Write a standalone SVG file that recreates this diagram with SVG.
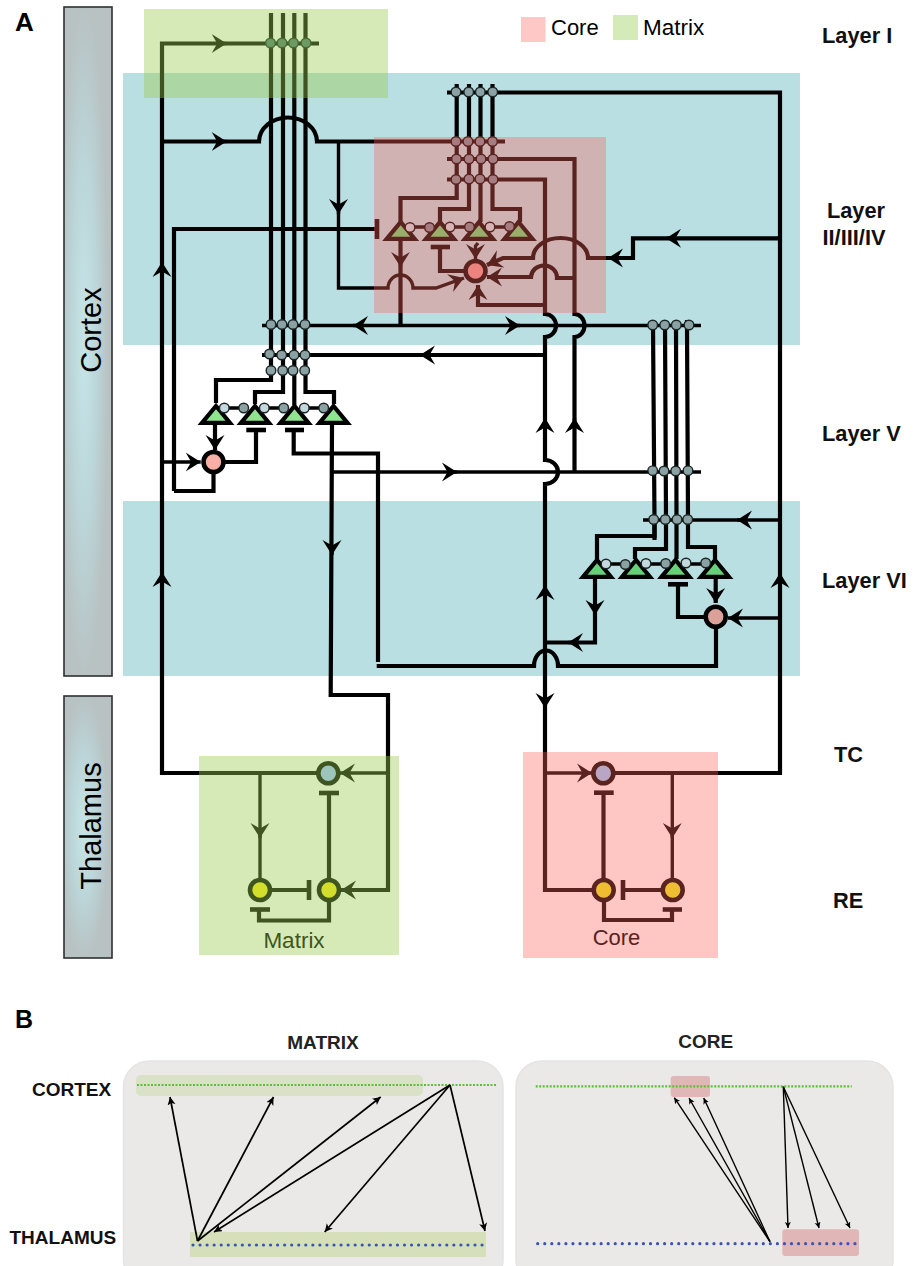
<svg xmlns="http://www.w3.org/2000/svg" width="919" height="1266" viewBox="0 0 919 1266">
<style>
text{font-family:"Liberation Sans",Arial,sans-serif;fill:#000}
.b{font-weight:bold}
.lay{font-weight:bold;font-size:21.8px;fill:#111}
.bar{stroke:#2d3030;stroke-width:1.6}
.band{fill:#b9dfe3}
.ovg{fill:#98cd4e;fill-opacity:.41}
.ovr{fill:#fc625a;fill-opacity:.357}
.l{fill:none;stroke:#000;stroke-width:4.2;stroke-linejoin:miter}
.t{fill:none;stroke:#000;stroke-width:3.4}
.a{fill:none;stroke:#000;stroke-width:3.4;marker-end:url(#arr)}
.tb{fill:none;stroke:#000;stroke-width:4.6}
.dot{fill:#8ba2a4;stroke:#1d2424;stroke-width:1.4}
.dl{fill:#c3d9dd;stroke:#1d2424;stroke-width:1.4}
.dm{fill:#6d9a63;stroke:#4a6a35;stroke-width:1.4}
.dc{fill:#a57c80;stroke:#5a2320;stroke-width:1.4}
.dcl{fill:#d6b4b6;stroke:#5a2320;stroke-width:1.4}
.tr{stroke:#000;stroke-width:4.2;stroke-miterlimit:10;stroke-linejoin:miter}
.tv{fill:#8fe48f}
.tvi{fill:#66cf78}
.tc{fill:#9aae6b;stroke:#5a2320}
.cell{stroke-width:4.6}
.pan{fill:#ebe8e8;stroke:#e5e4e4;stroke-width:1.5}
.hg{fill:#d9e1c6}
.hg2{fill:#d5e0bb}
.hr{fill:#e1b6b6}
.gd{fill:none;stroke:#5cc034;stroke-width:2.2;stroke-dasharray:2 1.5}
.bd{fill:none;stroke:#3a55b0;stroke-width:3.2;stroke-linecap:round;stroke-dasharray:0 7.05}
.pa{fill:none;stroke:#000;stroke-width:1.7;marker-end:url(#arb)}
.pb{fill:none;stroke:#000;stroke-width:1.4;marker-end:url(#arc)}
</style>
<defs>
<marker id="arr" markerUnits="userSpaceOnUse" markerWidth="16" markerHeight="20" refX="15" refY="10" orient="auto" viewBox="0 0 16 20"><path d="M15 10L0 0.500L5.500 10L0 19.500Z" fill="#000"/></marker>
<marker id="arb" markerUnits="userSpaceOnUse" markerWidth="9" markerHeight="9" refX="8" refY="4" orient="auto" viewBox="0 0 9 9"><path d="M8 4L0 0L2 4L0 8Z" fill="#000"/></marker>
<marker id="arc" markerUnits="userSpaceOnUse" markerWidth="7" markerHeight="7" refX="6" refY="3" orient="auto" viewBox="0 0 7 7"><path d="M6 3L0 0L1.500 3L0 6Z" fill="#000"/></marker>
<radialGradient id="barg" cx=".42" cy=".5" r=".5"><stop offset="0" stop-color="#c6e5e9"/><stop offset=".55" stop-color="#bbd5d8"/><stop offset="1" stop-color="#b8c2c3"/></radialGradient>
</defs>

<g id="backgrounds">
<rect class="bar" x="64" y="7" width="48" height="669" fill="url(#barg)"/>
<rect class="bar" x="64" y="696" width="48" height="262" fill="url(#barg)"/>
<rect class="band" x="123" y="73" width="677" height="272"/>
<rect class="band" x="123" y="501" width="677" height="175"/>
<rect x="521" y="17" width="24.500" height="25" fill="#fec8c6"/>
<rect x="613" y="15" width="25" height="25" fill="#d4ebb9"/>
</g>

<g id="connectors">
<path class="l" d="M271 13V380H216V403"/>
<path class="l" d="M283 13V392H255V404"/>
<path class="l" d="M294.300 13V405"/>
<path class="l" d="M305.500 13V392H334V404"/>
<path class="l" d="M162 775V43.500H319"/>
<path class="l" d="M162 141.500H259A29 24 0 0 1 317 141.500H505"/>
<path class="t" d="M338.500 142V288H388A12.500 13 0 0 1 413 288H436L464 278" marker-end="url(#arr)"/>
<path class="l" d="M174 491V229H375"/>
<path class="tb" d="M377 219V239"/>
<path class="l" d="M174 491H213.500V472"/>
<path class="l" d="M456.700 84V198H400.500V222"/>
<path class="l" d="M469 84V209H440V222"/>
<path class="l" d="M480.500 84V222"/>
<path class="l" d="M492.500 84V209H520V222"/>
<path class="l" d="M447 92.500H780V773H613"/>
<path class="l" d="M447 159H574.500V314A10 11.500 0 0 1 574.500 337V472"/>
<path class="l" d="M447 179.500H545V314A11 11.500 0 0 1 545 337V460A13 12 0 0 1 545 484V890H592"/>
<path class="l" d="M780 238.300H633V258H588A27.500 20 0 0 0 533 258H503L487 265" marker-end="url(#arr)"/>
<path class="l" d="M574.500 278H557A13 12 0 0 0 531 277H487" marker-end="url(#arr)"/>
<path class="l" d="M545 305H478V285" marker-end="url(#arr)"/>
<path class="l" d="M400.500 241V325"/>
<path class="t" d="M478 243L475.500 246V259" marker-end="url(#arr)"/>
<path class="tb" d="M430.700 247H450"/>
<path class="l" d="M440 247V271H465"/>
<path class="t" d="M410 227H429M450 227H469M490 227H509"/>
<path class="t" d="M262 325.500H701"/>
<path class="l" d="M262 355H545"/>
<path class="t" d="M332 472H701"/>
<path class="l" d="M653 320V325L654.500 519V536H597V559"/>
<path class="l" d="M654.500 519V540"/>
<path class="l" d="M665 320V325L666 519V549H635V559"/>
<path class="l" d="M676 320V325L676.500 519V559"/>
<path class="l" d="M687 320V325L688 519V547H715V559"/>
<path class="t" d="M643 520H780"/>
<path class="t" d="M224 408H244M264 408H284M304 408H324"/>
<path class="l" d="M215 425V450" marker-end="url(#arr)"/>
<path class="t" d="M162 462H200.700" marker-end="url(#arr)"/>
<path class="tb" d="M246.300 430H266"/>
<path class="l" d="M256 430V462H224"/>
<path class="tb" d="M285 430H304"/>
<path class="l" d="M293.700 430V453.500H378V662"/>
<path class="l" d="M332 425L330.700 695H388V890H341" marker-end="url(#arr)"/>
<path class="t" d="M388 773H340" marker-end="url(#arr)"/>
<path class="t" d="M606 564H625M646 564H666M686 564H706"/>
<path class="l" d="M595 579V642.500H544"/>
<path class="l" d="M715.700 579V603" marker-end="url(#arr)"/>
<path class="t" d="M780 618H728" marker-end="url(#arr)"/>
<path class="tb" d="M668 584.300H688"/>
<path class="l" d="M678 584.300V617H705"/>
<path class="l" d="M716 628V666H558A12 15.500 0 0 0 534 666H376.700"/>
<path class="l" d="M162 773H318"/>
<path class="t" d="M260 773V880"/>
<path class="l" d="M270 890H309"/>
<path class="tb" d="M309 880V900"/>
<path class="l" d="M329 880V793"/>
<path class="tb" d="M319 793H339"/>
<path class="l" d="M329 900V920.500H259V909.500"/>
<path class="tb" d="M250 909.500H270"/>
<path class="t" d="M545 773H592" marker-end="url(#arr)"/>
<path class="l" d="M604 773H672"/>
<path class="t" d="M672.300 773V880"/>
<path class="l" d="M603.500 880V793"/>
<path class="tb" d="M594 792.700H613.700"/>
<path class="l" d="M662 890H623"/>
<path class="tb" d="M623 880V900"/>
<path class="l" d="M604 900V920H672V909.500"/>
<path class="tb" d="M662.700 909.500H682"/>
<path class="a" d="M216 43.500H226.700"/>
<path class="a" d="M216 141.500H226.700"/>
<path class="a" d="M510 325.500H520"/>
<path class="a" d="M447 472H457"/>
<path class="a" d="M363 325.500H353"/>
<path class="a" d="M430 355H420"/>
<path class="a" d="M747 520H737"/>
<path class="a" d="M676 238.300H666"/>
<path class="a" d="M618 258H608"/>
<path class="a" d="M578 642.500H568"/>
<path class="a" d="M338.500 204V214"/>
<path class="a" d="M400.500 257V267"/>
<path class="a" d="M332 545V555"/>
<path class="a" d="M595 605V615"/>
<path class="a" d="M260 828V838"/>
<path class="a" d="M672.300 828V838"/>
<path class="a" d="M545 698V708"/>
<path class="a" d="M162 272V262"/>
<path class="a" d="M162 582V572"/>
<path class="a" d="M780 583V573"/>
<path class="a" d="M545 428V418"/>
<path class="a" d="M574.500 428V418"/>
<path class="a" d="M545 595V585"/>
</g>

<g id="overlays">
<rect class="ovg" x="144" y="9" width="244" height="89"/>
<rect class="ovr" x="374" y="137" width="232" height="176"/>
<rect class="ovg" x="199" y="756" width="200" height="199"/>
<rect class="ovr" x="523" y="752" width="195" height="206"/>
</g>

<g id="syn-layer1"><circle class="dm" cx="270.500" cy="43" r="4.800"/><circle class="dm" cx="282" cy="43" r="4.800"/><circle class="dm" cx="293.500" cy="43" r="4.800"/><circle class="dm" cx="306" cy="43" r="4.800"/></g>
<g id="syn-top"><circle class="dot" cx="456" cy="92" r="4.800"/><circle class="dot" cx="468.700" cy="92" r="4.800"/><circle class="dot" cx="480.300" cy="92" r="4.800"/><circle class="dot" cx="492.700" cy="92" r="4.800"/></g>
<g id="syn-core-rows">
<circle class="dc" cx="456" cy="141.500" r="4.800"/><circle class="dc" cx="468" cy="141.500" r="4.800"/><circle class="dc" cx="480" cy="141.500" r="4.800"/><circle class="dc" cx="492.500" cy="141.500" r="4.800"/>
<circle class="dc" cx="456.500" cy="159" r="4.800"/><circle class="dc" cx="469" cy="159" r="4.800"/><circle class="dc" cx="481" cy="159" r="4.800"/><circle class="dc" cx="493" cy="159" r="4.800"/>
<circle class="dc" cx="456" cy="179.500" r="4.800"/><circle class="dc" cx="469" cy="179" r="4.800"/><circle class="dc" cx="480" cy="179" r="4.800"/><circle class="dc" cx="493" cy="179.500" r="4.800"/>
</g>
<g id="pyr-core">
<polygon class="tr tc" points="386.700,238.900 400.700,222 414.700,238.900"/>
<polygon class="tr tc" points="426,238.900 440,222 454,238.900"/>
<polygon class="tr tc" points="465,238.900 479,222 493,238.900"/>
<polygon class="tr tc" points="504.500,238.900 518.500,222 532.500,238.900"/>
<circle class="dcl" cx="410" cy="227.500" r="4.800"/><circle class="dc" cx="429.500" cy="227.500" r="4.800"/><circle class="dcl" cx="450" cy="227" r="4.800"/><circle class="dc" cx="469.500" cy="227" r="4.800"/><circle class="dcl" cx="490" cy="227" r="4.800"/><circle class="dc" cx="509.500" cy="226.500" r="4.800"/>
</g>
<g id="int-core"><circle class="cell" cx="475.500" cy="271" r="10" fill="#ec837f" stroke="#5a2320"/></g>

<g id="syn-mid-left">
<circle class="dot" cx="271" cy="324.500" r="4.800"/><circle class="dot" cx="282" cy="324.500" r="4.800"/><circle class="dot" cx="293" cy="324.500" r="4.800"/><circle class="dot" cx="305" cy="324.500" r="4.800"/>
<circle class="dot" cx="269.500" cy="354" r="4.800"/><circle class="dot" cx="281.700" cy="355" r="4.800"/><circle class="dot" cx="294" cy="355" r="4.800"/><circle class="dot" cx="305" cy="355" r="4.800"/>
<circle class="dot" cx="271" cy="370.500" r="4.800"/><circle class="dot" cx="282.700" cy="370.500" r="4.800"/><circle class="dot" cx="293" cy="370.500" r="4.800"/><circle class="dot" cx="304.700" cy="370.500" r="4.800"/>
</g>
<g id="pyr-layer5">
<polygon class="tr tv" points="202,422.900 216,406 230,422.900"/>
<polygon class="tr tv" points="241,422.900 255,406 269,422.900"/>
<polygon class="tr tv" points="280.500,422.900 294.500,406 308.500,422.900"/>
<polygon class="tr tv" points="319.500,422.900 333.500,406 347.500,422.900"/>
<circle class="dl" cx="224.300" cy="408" r="4.800"/><circle class="dot" cx="243.700" cy="408" r="4.800"/><circle class="dl" cx="264.300" cy="408" r="4.800"/><circle class="dot" cx="283.700" cy="408" r="4.800"/><circle class="dl" cx="304.300" cy="408" r="4.800"/><circle class="dot" cx="323.700" cy="408" r="4.800"/>
</g>
<g id="int-layer5"><circle class="cell" cx="213.500" cy="462" r="10" fill="#f8afa5" stroke="#000"/></g>

<g id="syn-mid-right">
<circle class="dot" cx="652.700" cy="325" r="4.800"/><circle class="dot" cx="664.700" cy="325" r="4.800"/><circle class="dot" cx="676.300" cy="325" r="4.800"/><circle class="dot" cx="689" cy="325" r="4.800"/>
<circle class="dot" cx="652.700" cy="470.700" r="4.800"/><circle class="dot" cx="664" cy="471" r="4.800"/><circle class="dot" cx="675.700" cy="471" r="4.800"/><circle class="dot" cx="688" cy="470.700" r="4.800"/>
<circle class="dot" cx="653.700" cy="519.500" r="4.800"/><circle class="dot" cx="665.300" cy="519.500" r="4.800"/><circle class="dot" cx="677" cy="519.500" r="4.800"/><circle class="dot" cx="687.700" cy="519.500" r="4.800"/>
</g>
<g id="pyr-layer6">
<polygon class="tr tvi" points="583,576.900 597,560 611,576.900"/>
<polygon class="tr tvi" points="622,576.900 636,560 650,576.900"/>
<polygon class="tr tvi" points="661.500,576.900 675.500,560 689.500,576.900"/>
<polygon class="tr tvi" points="701,576.900 715,560 729,576.900"/>
<circle class="dl" cx="606" cy="564" r="4.800"/><circle class="dot" cx="625.300" cy="564.500" r="4.800"/><circle class="dl" cx="646" cy="563.500" r="4.800"/><circle class="dot" cx="665.700" cy="563.500" r="4.800"/><circle class="dl" cx="686" cy="563" r="4.800"/><circle class="dot" cx="705.700" cy="563" r="4.800"/>
</g>
<g id="int-layer6"><circle class="cell" cx="715.700" cy="616.700" r="10" fill="#dba097" stroke="#000"/></g>

<g id="tc-matrix"><circle class="cell" cx="328.300" cy="773.300" r="10" fill="#9cc5bb" stroke="#3f5520"/></g>
<g id="re-matrix-1"><circle class="cell" cx="260" cy="890" r="10" fill="#d3de2c" stroke="#3f5520"/></g>
<g id="re-matrix-2"><circle class="cell" cx="329" cy="890" r="10" fill="#d3de2c" stroke="#3f5520"/></g>
<g id="tc-core"><circle class="cell" cx="603.300" cy="773.300" r="10" fill="#b8a6c4" stroke="#5a2320"/></g>
<g id="re-core-1"><circle class="cell" cx="603.700" cy="890" r="10" fill="#efbd32" stroke="#5a2320"/></g>
<g id="re-core-2"><circle class="cell" cx="672.700" cy="890" r="10" fill="#efbd32" stroke="#5a2320"/></g>

<g id="labels-a">
<text class="b" x="15" y="31" font-size="26">A</text>
<text x="100.500" y="330" font-size="29" text-anchor="middle" transform="rotate(-90 100.500 330)" fill="#111">Cortex</text>
<text x="101" y="826" font-size="29" text-anchor="middle" transform="rotate(-90 101 826)" fill="#111">Thalamus</text>
<text x="551" y="35" font-size="22">Core</text>
<text x="643" y="35" font-size="22.500">Matrix</text>
<text class="lay" x="822" y="42.500">Layer I</text>
<text class="lay" x="856" y="218" text-anchor="middle">Layer</text>
<text class="lay" x="854" y="245" text-anchor="middle">II/III/IV</text>
<text class="lay" x="822" y="441">Layer V</text>
<text class="lay" x="822" y="588">Layer VI</text>
<text class="lay" x="834" y="762">TC</text>
<text class="lay" x="833" y="908">RE</text>
<text x="294" y="948" font-size="22.500" text-anchor="middle" style="fill:#3f5520">Matrix</text>
<text x="616.500" y="945" font-size="22" text-anchor="middle" style="fill:#5a2320">Core</text>
</g>

<g id="panel-b-matrix">
<rect class="pan" x="123.500" y="1061" width="379.500" height="225" rx="26"/>
<rect class="hg" x="136" y="1075" width="287" height="21" rx="5"/>
<rect class="hg2" x="190" y="1232" width="296" height="25"/>
<path class="gd" d="M137 1085H497"/>
<path class="bd" d="M193 1245H485"/>
<path class="pa" d="M197.500 1241L170 1097"/>
<path class="pa" d="M197.500 1241L273.500 1097"/>
<path class="pa" d="M197.500 1241L380.700 1097"/>
<path class="pa" d="M450 1085L214 1232"/>
<path class="pa" d="M450 1085L324.700 1232"/>
<path class="pa" d="M450 1085L485 1231"/>
</g>
<g id="panel-b-core">
<rect class="pan" x="516" y="1061" width="377" height="225" rx="26"/>
<rect class="hr" x="670.700" y="1076" width="39.300" height="21" rx="3"/>
<rect class="hr" x="782.300" y="1229.300" width="76.700" height="26.700" rx="3"/>
<path class="gd" d="M535.700 1086.300H851.700"/>
<path class="bd" d="M537.700 1243.700H856"/>
<path class="pb" d="M770 1241.700L674.300 1097.700"/>
<path class="pb" d="M770 1241.700L689 1098"/>
<path class="pb" d="M770 1241.700L703.700 1098"/>
<path class="pb" d="M783.300 1086.700L788 1228"/>
<path class="pb" d="M783.300 1086.700L819 1228"/>
<path class="pb" d="M783.300 1086.700L850 1228"/>
</g>
<g id="labels-b">
<text class="b" x="15" y="1028" font-size="25">B</text>
<text class="b" x="323" y="1049" font-size="19" text-anchor="middle" style="fill:#222">MATRIX</text>
<text class="b" x="705.700" y="1048" font-size="19" text-anchor="middle" style="fill:#222">CORE</text>
<text class="b" x="32" y="1096" font-size="19" style="fill:#111">CORTEX</text>
<text class="b" x="9.500" y="1244" font-size="19" style="fill:#111">THALAMUS</text>
</g>
</svg>
